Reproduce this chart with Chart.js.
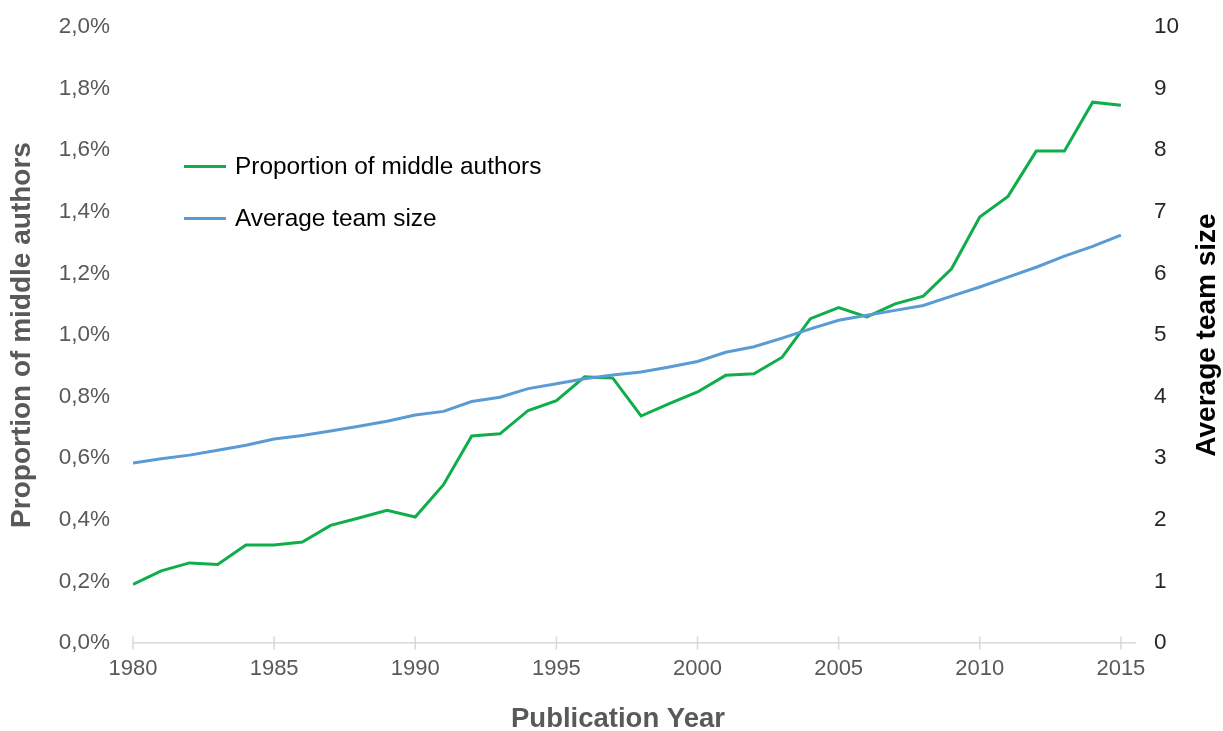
<!DOCTYPE html>
<html>
<head>
<meta charset="utf-8">
<script src="https://cdn.jsdelivr.net/npm/chart.js@4.4.1/dist/chart.umd.min.js"></script>
<style>
  html, body { margin: 0; padding: 0; background: #fff; }
  #wrap { position: relative; width: 1223px; height: 731px; }
  #legend { position: absolute; left: 0; top: 0; width: 0; height: 0; }
  .lg-row { position: absolute; left: 184px; height: 30px; display: flex; align-items: center; white-space: nowrap;
            font-family: "Liberation Sans", Arial, sans-serif; font-size: 24.4px; color: #000; }
  .lg-line { width: 42px; height: 3px; margin-right: 9px; }
</style>
</head>
<body>
<div id="wrap">
  <canvas id="c" width="1223" height="731"></canvas>
  <div id="legend"></div>
</div>
<script>
const years = [1980,1981,1982,1983,1984,1985,1986,1987,1988,1989,1990,1991,1992,1993,1994,1995,1996,1997,1998,1999,2000,2001,2002,2003,2004,2005,2006,2007,2008,2009,2010,2011,2012,2013,2014,2015];
const middleAuthorsPct = [0.19,0.234,0.26,0.255,0.318,0.318,0.328,0.382,0.406,0.431,0.409,0.514,0.672,0.679,0.755,0.787,0.864,0.86,0.737,0.777,0.815,0.869,0.874,0.928,1.053,1.089,1.059,1.101,1.126,1.215,1.383,1.45,1.597,1.597,1.756,1.746];
const avgTeamSize = [2.92,2.99,3.05,3.13,3.21,3.31,3.37,3.44,3.52,3.60,3.70,3.76,3.92,3.99,4.13,4.21,4.29,4.35,4.40,4.48,4.57,4.72,4.81,4.95,5.10,5.24,5.32,5.40,5.48,5.63,5.78,5.94,6.10,6.28,6.44,6.62];
const xTickYears = [1980,1985,1990,1995,2000,2005,2010,2015];
const leftTicks = [0,0.2,0.4,0.6,0.8,1.0,1.2,1.4,1.6,1.8,2.0];
const rightTicks = [0,1,2,3,4,5,6,7,8,9,10];
const seriesLabels = ['Proportion of middle authors','Average team size'];
const seriesColors = ['#0fae4a','#5b9bd5'];
const xTitle = 'Publication Year';
const leftTitle = 'Proportion of middle authors';
const rightTitle = 'Average team size';

const FONT = '"Liberation Sans", Arial, sans-serif';
Chart.defaults.font.family = FONT;

const extras = {
  id: 'extras',
  afterDraw(chart) {
    const ctx = chart.ctx;
    const xs = chart.scales.x;
    const y0 = chart.chartArea.bottom;
    ctx.save();
    ctx.strokeStyle = '#d9d9d9';
    ctx.lineWidth = 1.5;
    xs.ticks.forEach(t => {
      const px = xs.getPixelForValue(t.value);
      ctx.beginPath();
      ctx.moveTo(px, y0 - 6.5);
      ctx.lineTo(px, y0 + 6.5);
      ctx.stroke();
    });
    // x-axis title (offset slightly left of centre, as in the reference)
    ctx.font = 'bold 27.5px ' + FONT;
    ctx.fillStyle = '#595959';
    ctx.textAlign = 'center';
    ctx.textBaseline = 'middle';
    ctx.fillText(xTitle, xs.left + (xs.right - xs.left) * 0.484, xs.bottom - 12);
    // right axis title, reading bottom-to-top
    const r = chart.scales.y2;
    ctx.translate(r.right - 16, (chart.chartArea.top + chart.chartArea.bottom) / 2);
    ctx.rotate(-Math.PI / 2);
    ctx.font = 'bold 28px ' + FONT;
    ctx.fillStyle = '#000';
    ctx.fillText(rightTitle, 0, 0);
    ctx.restore();
  }
};

const chart = new Chart(document.getElementById('c'), {
  type: 'line',
  data: {
    datasets: [
      { label: seriesLabels[0], data: years.map((y, i) => ({ x: y, y: middleAuthorsPct[i] })),
        borderColor: seriesColors[0], backgroundColor: seriesColors[0], borderWidth: 3,
        pointRadius: 0, tension: 0, yAxisID: 'y', order: 2 },
      { label: seriesLabels[1], data: years.map((y, i) => ({ x: y, y: avgTeamSize[i] })),
        borderColor: seriesColors[1], backgroundColor: seriesColors[1], borderWidth: 3,
        pointRadius: 0, tension: 0, yAxisID: 'y2', order: 1 }
    ]
  },
  options: {
    responsive: false,
    animation: false,
    layout: { padding: { top: 27, left: 0, right: 0, bottom: 0 } },
    plugins: { legend: { display: false }, tooltip: { enabled: false } },
    scales: {
      x: {
        type: 'linear', min: 1980, max: 2015.5,
        afterBuildTicks: s => { s.ticks = xTickYears.map(v => ({ value: v })); },
        afterFit: s => { s.height = 88; },
        ticks: { padding: 13, color: '#595959', font: { size: 22 }, autoSkip: false, maxRotation: 0,
                 callback: v => String(v) },
        grid: { display: true, drawOnChartArea: false, drawTicks: false },
        border: { display: true, color: '#d9d9d9', width: 1.5 },
        title: { display: false }
      },
      y: {
        position: 'left', min: 0, max: 2.0,
        afterBuildTicks: s => { s.ticks = leftTicks.map(v => ({ value: v })); },
        afterFit: s => { s.width = 133; s.paddingTop = 8; s.paddingBottom = 8; },
        ticks: { padding: 23, color: '#595959', font: { size: 22.5 },
                 callback: v => Number(v).toFixed(1).replace('.', ',') + '%' },
        grid: { display: false, drawTicks: false },
        border: { display: false },
        title: { display: true, text: leftTitle, color: '#595959', font: { size: 28, weight: 'bold' },
                 padding: { top: 5, bottom: 0 } }
      },
      y2: {
        position: 'right', min: 0, max: 10,
        afterBuildTicks: s => { s.ticks = rightTicks.map(v => ({ value: v })); },
        afterFit: s => { s.width = 88; s.paddingTop = 8; s.paddingBottom = 8; },
        ticks: { padding: 19, color: '#262626', font: { size: 22.5 }, callback: v => String(v) },
        grid: { display: false, drawTicks: false },
        border: { display: false },
        title: { display: false }
      }
    }
  },
  plugins: [extras]
});

// HTML legend built from dataset labels/colours
const legendTops = [151, 203];
const lg = document.getElementById('legend');
seriesLabels.forEach((lab, i) => {
  const row = document.createElement('div');
  row.className = 'lg-row';
  row.style.top = legendTops[i] + 'px';
  const ln = document.createElement('span');
  ln.className = 'lg-line';
  ln.style.background = seriesColors[i];
  const tx = document.createElement('span');
  tx.textContent = lab;
  row.appendChild(ln);
  row.appendChild(tx);
  lg.appendChild(row);
});
</script>
</body>
</html>
